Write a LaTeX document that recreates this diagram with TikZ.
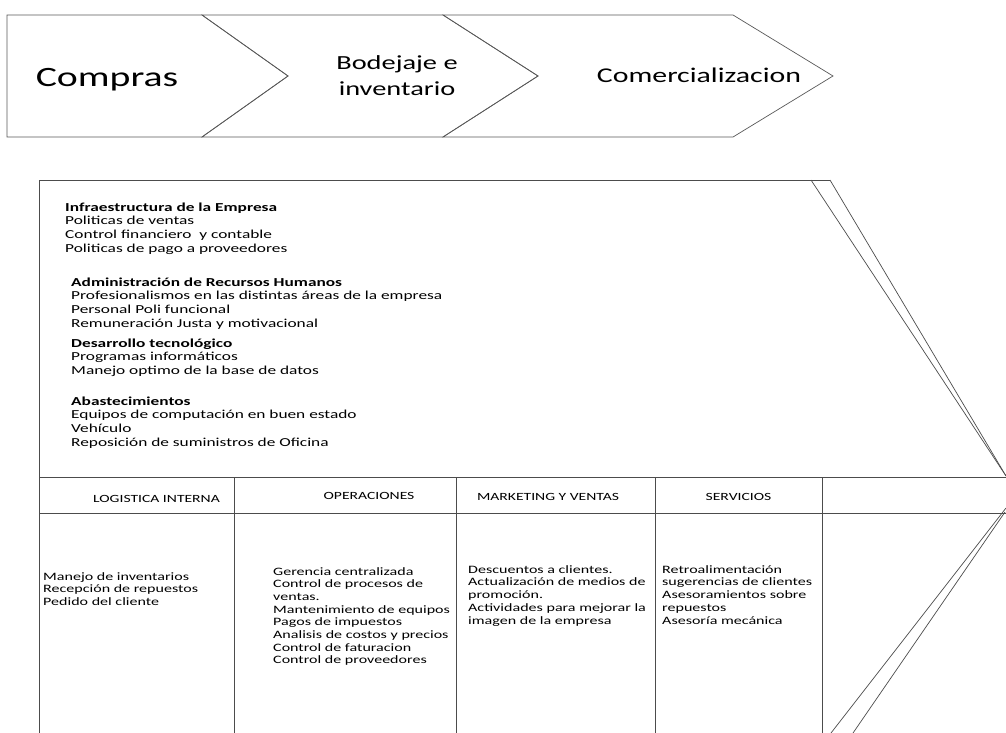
\documentclass[tikz,border=0pt]{standalone}
\usepackage{fontspec}
\setmainfont{Carlito}[FakeStretch=1.42]
\begin{document}
\begin{tikzpicture}[x=1pt,y=-1pt,
  frame/.style={draw=black!70,line width=0.8pt},
  chev/.style={draw=black!65,line width=0.7pt,line join=miter},
  diag/.style={draw=black!70,line width=0.7pt},
  big/.style={inner sep=0pt,anchor=base,font=\fontsize{28}{32}\selectfont},
  mid/.style={inner sep=0pt,anchor=base,align=center,font=\fontsize{20}{26}\selectfont},
  sup/.style={inner sep=0pt,anchor=base west,align=left,font=\fontsize{12.2}{13.9}\selectfont},
  head/.style={inner sep=0pt,anchor=base,font=\fontsize{11}{13}\selectfont},
  prim/.style={inner sep=0pt,anchor=base west,align=left,font=\fontsize{11.3}{12.9}\selectfont}]
\useasboundingbox (0,0) rectangle (1006,733);
\fill[white] (0,0) rectangle (1006,733);

% top chevrons
\draw[chev] (7,15) -- (202,15) -- (288,76) -- (202,137) -- (7,137) -- cycle;
\draw[chev] (202,15) -- (443,15) -- (538,76) -- (443,137) -- (202,137) -- (288,76) -- cycle;
\draw[chev] (443,15) -- (733,15) -- (833,76) -- (733,137) -- (443,137) -- (538,76) -- cycle;
\node[big] (compras) at (107,87) {Compras};
\node[mid] (bodega) at (397,96) {Bodejaje e\\inventario};
\node[mid,font=\fontsize{21}{25}\selectfont] (comer) at (699,83) {Comercializacion};

% main frame
\coordinate (tl) at (39,180);
\coordinate (tr) at (830,180);
\coordinate (tr2) at (811,180);
\coordinate (tip) at (1006,476);
\coordinate (bl) at (39,733);
\draw[frame] (bl) -- (tl) -- (tr);
\draw[diag] (tr2) -- (tip);
\draw[diag] (tr) -- (tip);
\draw[frame] (39,477) -- (1006,477);
\draw[frame] (39,513) -- (1006,513);
\foreach \xx in {234,456,655,822} \draw[frame] (\xx,477) -- (\xx,733);
\coordinate (lt) at (1006,508);
\coordinate (lt2) at (1005,512);
\coordinate (lb1) at (831,733);
\coordinate (lb2) at (853,733);
\draw[diag] (lt) -- (lb1);
\draw[diag] (lt2) -- (lb2);

% support activities (anchor = baseline of last line)
\node[sup] (infra) at (65,252.7) {\textbf{Infraestructura de la Empresa}\\Politicas de ventas\\Control financiero\ \ y contable\\Politicas de pago a proveedores};
\node[sup] (rrhh) at (71,327.7) {\textbf{Administración de Recursos Humanos}\\Profesionalismos en las distintas áreas de la empresa\\Personal Poli funcional\\Remuneración Justa y motivacional};
\node[sup] (tec) at (71,374.8) {\textbf{Desarrollo tecnológico}\\Programas informáticos\\Manejo optimo de la base de datos};
\node[sup] (abas) at (71,446.7) {\textbf{Abastecimientos}\\Equipos de computación en buen estado\\Vehículo\\Reposición de suministros de Oficina};

% headers
\node[head] (h1) at (156.5,502) {LOGISTICA INTERNA};
\node[head] (h2) at (369,499) {OPERACIONES};
\node[head] (h3) at (548,500.5) {MARKETING Y VENTAS};
\node[head] (h4) at (738.5,500.5) {SERVICIOS};

% primary contents
\node[prim] (c1) at (43,605.8) {Manejo de inventarios\\Recepción de repuestos\\Pedido del cliente};
\node[prim,font=\fontsize{11.3}{12.7}\selectfont] (c2) at (273,663.9) {Gerencia centralizada\\Control de procesos de\\ventas.\\Mantenimiento de equipos\\Pagos de impuestos\\Analisis de costos y precios\\Control de faturacion\\Control de proveedores};
\node[prim] (c3) at (468,624.6) {Descuentos a clientes.\\Actualización de medios de\\promoción.\\Actividades para mejorar la\\imagen de la empresa};
\node[prim] (c4) at (662,624.6) {Retroalimentación\\sugerencias de clientes\\Asesoramientos sobre\\repuestos\\Asesoría mecánica};
\end{tikzpicture}
\end{document}
